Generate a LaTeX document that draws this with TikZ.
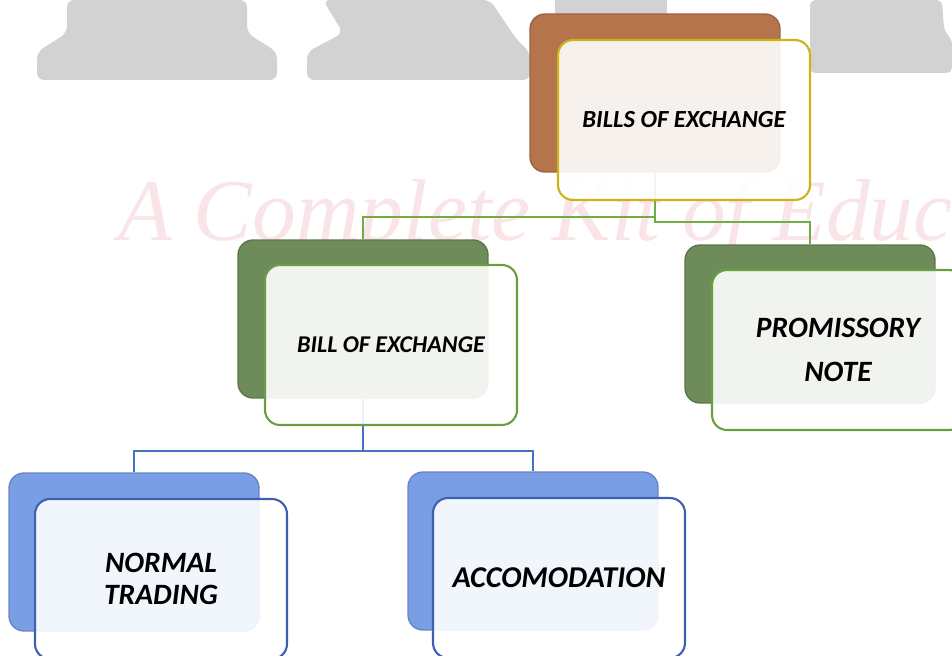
\documentclass[tikz,border=0pt]{standalone}
\usepackage{fontspec}
\setmainfont{Carlito}
\newfontfamily\wmfont{Liberation Serif}
\definecolor{wmgray}{RGB}{210,210,210}
\definecolor{wmpink}{RGB}{249,229,232}
\definecolor{brownback}{RGB}{182,116,76}
\definecolor{greenback}{RGB}{110,140,90}
\definecolor{blueback}{RGB}{122,158,228}
\definecolor{goldedge}{RGB}{205,180,20}
\definecolor{greenedge}{RGB}{104,160,64}
\definecolor{blueedge}{RGB}{62,96,176}
\definecolor{gline}{RGB}{112,173,71}
\definecolor{bline}{RGB}{68,114,196}
\tikzstyle{back}=[rounded corners=0.3cm,minimum width=5cm,minimum height=3.16cm,inner sep=0pt,line width=0.8pt]
\tikzstyle{front}=[rounded corners=0.3cm,minimum width=5.04cm,minimum height=3.2cm,inner sep=0pt,fill=white,fill opacity=0.9,text opacity=1,line width=1.2pt,align=center]
\tikzstyle{link}=[line width=1.3pt]

\begin{document}
\begin{tikzpicture}[x=0.02cm,y=-0.02cm]
        \useasboundingbox (0,0) rectangle (952,655);
        \clip (0,0) rectangle (952,655);
        % watermark
        \fill[wmgray,rounded corners=4] (67,0) -- (67,33) -- (37,52) -- (37,80) -- (277,80) -- (277,52) -- (247,33) -- (247,0) -- cycle;
        \fill[wmgray,rounded corners=4] (323,0) -- (343,33) -- (307,52) -- (307,80) -- (530,80) -- (530,52) -- (517,40) -- (490,0) -- cycle;
        \fill[wmgray] (555,0) rectangle (667,14);
        \fill[wmgray,rounded corners=3] (810,0) -- (810,73) -- (952,73) -- (952,40) -- (944,30) -- (942,0) -- cycle;
        \node[wmpink,anchor=base west,inner sep=0pt,font=\wmfont\itshape\fontsize{50}{50}\selectfont] (wm) at (118,240) {A Complete Kit of Educ};
        % back boxes
        \node[back,fill=brownback,draw=brownback!85!black] (billsback) at (655,93) {};
        \node[back,fill=greenback,draw=greenback!85!black] (billback) at (363,319) {};
        \node[back,fill=greenback,draw=greenback!85!black] (noteback) at (810,324) {};
        \node[back,fill=blueback,draw=blueback!85!black] (normalback) at (134,552) {};
        \node[back,fill=blueback,draw=blueback!85!black] (accomback) at (533,551) {};
        % links
        \draw[link,gline] (billsback.south) -- ++(0,44) -| (billback.north);
        \draw[link,gline] (billsback.south) -- ++(0,49) -| (noteback.north);
        \draw[link,bline] (billback.south) -- ++(0,52) -| (normalback.north);
        \draw[link,bline] (billback.south) -- ++(0,52) -| (accomback.north);
        % front boxes
        \node[front,draw=goldedge,font=\bfseries\itshape\fontsize{14}{16}\selectfont] (bills) at (684,120) {BILLS OF EXCHANGE};
        \node[front,draw=greenedge,font=\bfseries\itshape\fontsize{13.7}{16}\selectfont] (bill) at (391,345) {BILL OF EXCHANGE};
        \node[front,draw=greenedge,font=\bfseries\itshape\fontsize{16.8}{25.5}\selectfont] (note) at (838,350) {PROMISSORY\\NOTE};
        \node[front,draw=blueedge,font=\bfseries\itshape\fontsize{16.8}{18.5}\selectfont] (normal) at (161,579) {NORMAL\\TRADING};
        \node[front,draw=blueedge,font=\bfseries\itshape\fontsize{17.2}{18}\selectfont] (accom) at (559,578) {ACCOMODATION};
    \end{tikzpicture}
\end{document}
